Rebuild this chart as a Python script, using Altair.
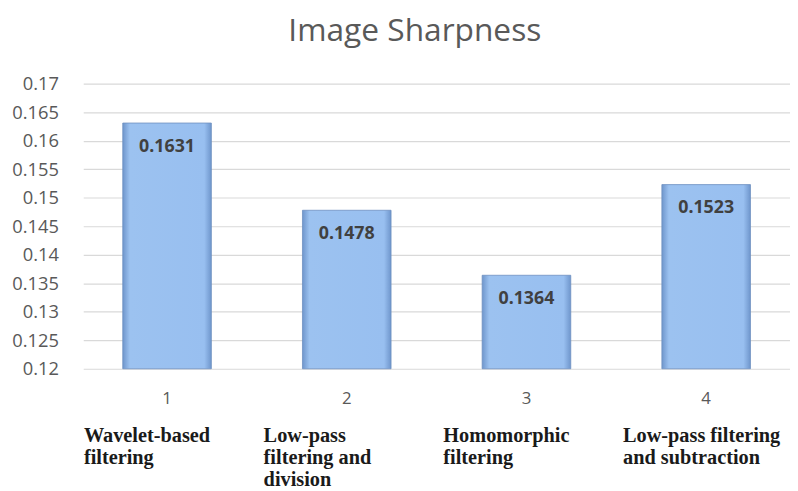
import altair as alt
import pandas as pd

categories = ["1", "2", "3", "4"]
values = [0.1631, 0.1478, 0.1364, 0.1523]
value_labels = ["0.1631", "0.1478", "0.1364", "0.1523"]
method_names = [
    "Wavelet-based\nfiltering",
    "Low-pass\nfiltering and\ndivision",
    "Homomorphic\nfiltering",
    "Low-pass filtering\nand subtraction",
]
y_ticks = [0.12, 0.125, 0.13, 0.135, 0.14, 0.145, 0.15, 0.155, 0.16, 0.165, 0.17]

df = pd.DataFrame({"cat": categories, "value": values, "label": value_labels, "method": method_names})

W, H = 714, 288

x = alt.X("cat:N", sort=categories,
          scale=alt.Scale(paddingInner=0.507, paddingOuter=0.22),
          axis=alt.Axis(title=None, labelAngle=0, domain=False, ticks=False,
                        labelPadding=22, labelFontSize=17, labelColor="#595959",
                        labelFont="Open Sans"))
y = alt.Y("value:Q",
          scale=alt.Scale(domain=[0.12, 0.17], zero=False, nice=False),
          axis=alt.Axis(title=None, values=y_ticks, tickCount=20, format="~g", domain=False,
                        ticks=False, grid=True, gridColor="#d9d9d9", gridWidth=1.2,
                        labelOverlap=False, labelFontSize=18.5, labelColor="#595959",
                        labelFont="Open Sans", labelPadding=25))

gradient = alt.Gradient(
    gradient="linear", x1=0, x2=1, y1=0, y2=0,
    stops=[alt.GradientStop(color="#6f96cc", offset=0),
           alt.GradientStop(color="#9cc2f0", offset=0.08),
           alt.GradientStop(color="#98bff0", offset=0.92),
           alt.GradientStop(color="#6f96cc", offset=1)])

bars = alt.Chart(df).mark_bar(fill=gradient, stroke="#6d8fbf", strokeWidth=0.8).encode(
    x=x, y=y, y2=alt.datum(0.12))

labels = alt.Chart(df).mark_text(baseline="top", dy=15, fontSize=18, fontWeight="bold",
                                 color="#404040", font="Noto Sans").encode(
    x=alt.X("cat:N", sort=categories), y="value:Q", text="label:N")

names = alt.Chart(df).mark_text(align="left", baseline="middle", dx=-84, fontSize=20.5,
                                fontWeight="bold", color="#1a1a1a", font="Liberation Serif",
                                lineBreak="\n", lineHeight=22).encode(
    x=alt.X("cat:N", sort=categories), y=alt.value(H + 68), text="method:N")

chart = alt.layer(bars, labels, names).properties(
    width=W, height=H,
    title=alt.TitleParams("Image Sharpness", fontSize=32, font="Open Sans", fontWeight="normal",
                          color="#595959", anchor="middle", dx=-22, offset=27),
    autosize=alt.AutoSizeParams(type="none"),
    padding={"left": 76, "top": 74, "right": 0, "bottom": 121},
).configure_view(stroke=None)

chart.save("out.html", embed_options={"renderer": "svg", "actions": False})
